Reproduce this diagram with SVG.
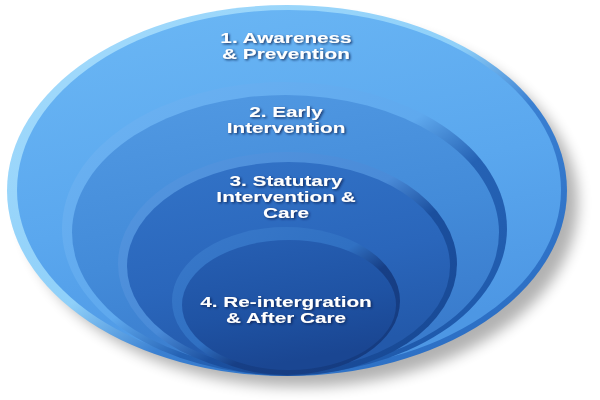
<svg xmlns="http://www.w3.org/2000/svg" width="600" height="400" viewBox="0 0 600 400">
  <defs>
    <filter id="shadow" x="-20%" y="-20%" width="140%" height="140%">
      <feGaussianBlur stdDeviation="7"/>
    </filter>
    <filter id="ts" x="-10%" y="-30%" width="120%" height="160%">
      <feDropShadow dx="1" dy="1.2" stdDeviation="0.8" flood-color="#0b2350" flood-opacity="0.85"/>
    </filter>
    <linearGradient id="rim1" x1="0" y1="0" x2="1" y2="1">
      <stop offset="0" stop-color="#a6dcfc"/>
      <stop offset="0.46" stop-color="#8fd0f9"/>
      <stop offset="0.6" stop-color="#3a80d2"/>
      <stop offset="1" stop-color="#2566bd"/>
    </linearGradient>
    <linearGradient id="fill1" x1="0" y1="0" x2="0.3" y2="1">
      <stop offset="0" stop-color="#6cb8f5"/>
      <stop offset="0.6" stop-color="#5aa7ee"/>
      <stop offset="1" stop-color="#4d97e4"/>
    </linearGradient>
    <linearGradient id="rim2" x1="0" y1="0" x2="1" y2="1">
      <stop offset="0" stop-color="#6eb3f2"/>
      <stop offset="0.46" stop-color="#5fa9ee"/>
      <stop offset="0.6" stop-color="#2562b4"/>
      <stop offset="1" stop-color="#1c56a8"/>
    </linearGradient>
    <linearGradient id="fill2" x1="0" y1="0" x2="0.3" y2="1">
      <stop offset="0" stop-color="#529ae3"/>
      <stop offset="0.6" stop-color="#438bd9"/>
      <stop offset="1" stop-color="#3a7ccd"/>
    </linearGradient>
    <linearGradient id="rim3" x1="0" y1="0" x2="1" y2="1">
      <stop offset="0" stop-color="#5597e0"/>
      <stop offset="0.46" stop-color="#4a8bd8"/>
      <stop offset="0.6" stop-color="#1b4f9e"/>
      <stop offset="1" stop-color="#174893"/>
    </linearGradient>
    <linearGradient id="fill3" x1="0" y1="0" x2="0.3" y2="1">
      <stop offset="0" stop-color="#3374c8"/>
      <stop offset="0.6" stop-color="#2a66bb"/>
      <stop offset="1" stop-color="#2359aa"/>
    </linearGradient>
    <linearGradient id="rim4" x1="0" y1="0" x2="1" y2="1">
      <stop offset="0" stop-color="#3a7acb"/>
      <stop offset="0.46" stop-color="#3070c2"/>
      <stop offset="0.6" stop-color="#173f86"/>
      <stop offset="1" stop-color="#143a7e"/>
    </linearGradient>
    <linearGradient id="fill4" x1="0" y1="0" x2="0.3" y2="1">
      <stop offset="0" stop-color="#2760b4"/>
      <stop offset="0.6" stop-color="#1f53a4"/>
      <stop offset="1" stop-color="#1a4692"/>
    </linearGradient>
    <style>
      .lbl { font-family: "Liberation Sans", Arial, sans-serif; font-weight: bold; font-size: 14.5px; fill: #ffffff; text-anchor: middle; }
    </style>
  </defs>

  <rect width="600" height="400" fill="#ffffff"/>

  <!-- drop shadow -->
  <ellipse cx="300" cy="203" rx="278" ry="184" fill="#000" opacity="0.3" filter="url(#shadow)"/>

  <g id="ring1">
    <ellipse cx="287" cy="190.5" rx="280" ry="185.5" fill="url(#rim1)"/>
    <ellipse cx="289" cy="190" rx="272" ry="180" fill="url(#fill1)"/>
    <g filter="url(#ts)" transform="translate(286,0) scale(1.43,1)">
      <text class="lbl" x="0" y="43">1. Awareness</text>
      <text class="lbl" x="0" y="59.3">&amp; Prevention</text>
    </g>
  </g>

  <g id="ring2">
    <ellipse cx="284.5" cy="228.5" rx="222.5" ry="146.5" fill="url(#rim2)"/>
    <ellipse cx="285.5" cy="232.5" rx="213.5" ry="137.5" fill="url(#fill2)"/>
    <g filter="url(#ts)" transform="translate(286,0) scale(1.43,1)">
      <text class="lbl" x="0" y="117.2">2. Early</text>
      <text class="lbl" x="0" y="133.5">Intervention</text>
    </g>
  </g>

  <g id="ring3">
    <ellipse cx="287.5" cy="264" rx="169.5" ry="112" fill="url(#rim3)"/>
    <ellipse cx="288.5" cy="266" rx="161.5" ry="104" fill="url(#fill3)"/>
    <g filter="url(#ts)" transform="translate(286,0) scale(1.43,1)">
      <text class="lbl" x="0" y="185.8">3. Statutary</text>
      <text class="lbl" x="0" y="202.1">Intervention &amp;</text>
      <text class="lbl" x="0" y="218.4">Care</text>
    </g>
  </g>

  <g id="ring4">
    <ellipse cx="286" cy="301" rx="114" ry="74" fill="url(#rim4)"/>
    <ellipse cx="289" cy="305" rx="107" ry="65" fill="url(#fill4)"/>
    <g filter="url(#ts)" transform="translate(286,0) scale(1.43,1)">
      <text class="lbl" x="0" y="306.6">4. Re-intergration</text>
      <text class="lbl" x="0" y="322.9">&amp; After Care</text>
    </g>
  </g>

  <g id="connectors"/>
</svg>
